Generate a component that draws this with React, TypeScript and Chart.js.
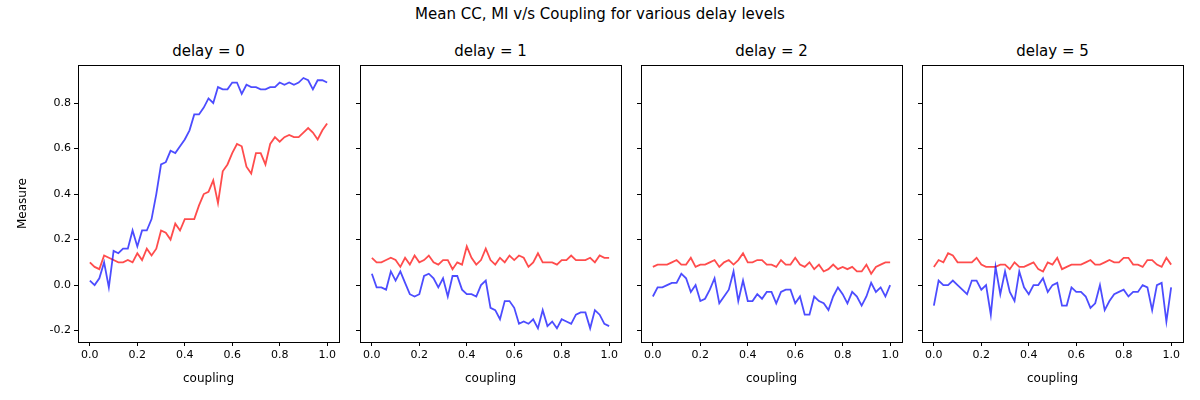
import { useEffect, useRef } from 'react';
import { Chart, registerables } from 'chart.js';

Chart.register(...registerables);

const coupling = Array.from({ length: 51 }, (_, i) => +(i * 0.02).toFixed(2));
const delays = [0, 1, 2, 5];

const ccDelay0 = [0.02,0.0,0.03,0.1,-0.01,0.15,0.14,0.16,0.16,0.24,0.17,0.24,0.24,0.29,0.4,0.53,0.54,0.59,0.58,0.61,0.64,0.68,0.75,0.75,0.78,0.82,0.8,0.87,0.86,0.86,0.89,0.89,0.84,0.88,0.87,0.87,0.86,0.86,0.87,0.87,0.89,0.88,0.89,0.88,0.89,0.91,0.9,0.86,0.9,0.9,0.89];
const miDelay0 = [0.1,0.08,0.07,0.13,0.12,0.11,0.1,0.1,0.11,0.1,0.14,0.11,0.16,0.13,0.16,0.24,0.23,0.2,0.27,0.24,0.29,0.29,0.29,0.35,0.4,0.41,0.46,0.36,0.5,0.53,0.58,0.62,0.61,0.52,0.49,0.58,0.58,0.53,0.62,0.65,0.63,0.65,0.66,0.65,0.65,0.67,0.69,0.67,0.64,0.68,0.71];
const ccDelay1 = [0.05,-0.01,-0.01,-0.02,0.06,0.02,0.06,0.01,-0.04,-0.05,-0.04,0.04,0.05,0.03,-0.01,0.03,-0.05,0.04,0.04,-0.02,-0.04,-0.04,-0.05,0.0,0.02,-0.1,-0.11,-0.15,-0.07,-0.07,-0.1,-0.17,-0.16,-0.17,-0.15,-0.19,-0.11,-0.18,-0.16,-0.19,-0.15,-0.16,-0.17,-0.13,-0.12,-0.12,-0.19,-0.11,-0.13,-0.17,-0.18];
const miDelay1 = [0.12,0.1,0.1,0.11,0.12,0.11,0.08,0.12,0.09,0.13,0.1,0.11,0.13,0.1,0.09,0.11,0.11,0.07,0.1,0.09,0.17,0.12,0.09,0.11,0.16,0.11,0.09,0.12,0.1,0.13,0.11,0.13,0.12,0.08,0.1,0.14,0.1,0.1,0.1,0.09,0.11,0.11,0.13,0.11,0.11,0.11,0.12,0.1,0.13,0.12,0.12];
const ccDelay2 = [-0.05,-0.01,-0.01,0.0,0.01,0.01,0.05,0.03,-0.03,0.0,-0.07,-0.06,-0.02,0.03,-0.08,-0.05,-0.02,0.06,-0.07,0.02,-0.07,-0.07,-0.04,-0.06,-0.03,-0.03,-0.08,-0.03,-0.02,-0.02,-0.08,-0.05,-0.13,-0.13,-0.05,-0.07,-0.08,-0.11,-0.05,-0.01,-0.04,-0.08,-0.03,-0.05,-0.09,-0.05,0.01,-0.03,-0.01,-0.05,0.0];
const miDelay2 = [0.08,0.09,0.09,0.09,0.1,0.11,0.09,0.09,0.12,0.08,0.09,0.09,0.1,0.11,0.08,0.1,0.11,0.09,0.11,0.14,0.1,0.1,0.11,0.11,0.09,0.09,0.08,0.11,0.09,0.09,0.12,0.09,0.08,0.1,0.07,0.09,0.06,0.07,0.09,0.07,0.08,0.07,0.08,0.06,0.06,0.09,0.05,0.08,0.09,0.1,0.1];
const ccDelay5 = [-0.09,0.02,0.0,0.0,0.02,0.0,-0.02,-0.04,0.02,0.02,-0.02,0.0,-0.13,0.08,-0.04,0.06,-0.03,-0.07,0.06,-0.01,-0.04,0.0,0.0,0.03,-0.03,0.0,0.01,-0.09,-0.09,-0.01,-0.03,-0.03,-0.05,-0.1,-0.08,0.0,-0.11,-0.07,-0.04,-0.03,-0.02,-0.05,-0.03,-0.03,0.0,-0.01,-0.11,0.0,0.01,-0.16,-0.01];
const miDelay5 = [0.08,0.11,0.1,0.14,0.13,0.1,0.1,0.1,0.1,0.12,0.09,0.08,0.08,0.08,0.09,0.09,0.07,0.1,0.08,0.08,0.09,0.1,0.07,0.06,0.1,0.09,0.12,0.07,0.08,0.09,0.09,0.09,0.1,0.11,0.09,0.09,0.1,0.11,0.1,0.1,0.12,0.12,0.09,0.09,0.08,0.11,0.11,0.09,0.08,0.12,0.09];

const ccSeries = [ccDelay0, ccDelay1, ccDelay2, ccDelay5];
const miSeries = [miDelay0, miDelay1, miDelay2, miDelay5];
const xTicks = [0, 0.2, 0.4, 0.6, 0.8, 1.0];
const yTicks = [-0.2, 0, 0.2, 0.4, 0.6, 0.8];

const FONT = 'DejaVu Sans, sans-serif';
// plot box left edges (page px) and width
const boxLeft = [78, 360, 641, 922];
const boxW = 261;

const framePlugin = {
  id: 'frame',
  afterDraw(chart: Chart) {
    const { ctx, chartArea: a } = chart;
    ctx.save();
    ctx.strokeStyle = '#000';
    ctx.lineWidth = 1;
    ctx.strokeRect(Math.round(a.left) + 0.5, Math.round(a.top) + 0.5, Math.round(a.width), Math.round(a.height));
    ctx.restore();
  },
};

function Panel({ idx }: { idx: number }) {
  const canvasRef = useRef<HTMLCanvasElement | null>(null);
  const first = idx === 0;
  const canvasLeft = first ? 0 : boxLeft[idx] - 12;
  const yWidth = boxLeft[idx] - canvasLeft - (first ? 16 : 0);

  useEffect(() => {
    if (!canvasRef.current) return;
    const chart = new Chart(canvasRef.current, {
      type: 'line',
      data: {
        datasets: [
          { data: coupling.map((x, i) => ({ x, y: ccSeries[idx][i] })), borderColor: 'rgba(0,0,255,0.7)', borderWidth: 1.8, pointRadius: 0, tension: 0 },
          { data: coupling.map((x, i) => ({ x, y: miSeries[idx][i] })), borderColor: 'rgba(255,0,0,0.7)', borderWidth: 1.8, pointRadius: 0, tension: 0 },
        ],
      },
      options: {
        animation: false,
        responsive: false,
        layout: { padding: { top: 65, right: 1, bottom: 14, left: first ? 16 : 0 } },
        plugins: { legend: { display: false }, tooltip: { enabled: false } },
        scales: {
          x: {
            type: 'linear', min: -0.05, max: 1.05,
            grid: { drawOnChartArea: false, tickLength: 4, color: '#000' },
            border: { display: false },
            afterBuildTicks: (s: any) => { s.ticks = xTicks.map((v) => ({ value: v })); },
            ticks: { color: '#000', font: { family: FONT, size: 11 }, callback: (v: any) => Number(v).toFixed(1) },
            title: { display: true, text: 'coupling', color: '#000', font: { family: FONT, size: 12 }, padding: 0 },
            afterFit: (s: any) => { s.height = 44; },
          },
          y: {
            type: 'linear', min: -0.25, max: 0.967,
            grid: { drawOnChartArea: false, tickLength: 4, color: '#000' },
            border: { display: false },
            afterBuildTicks: (s: any) => { s.ticks = yTicks.map((v) => ({ value: v })); },
            ticks: { display: first, color: '#000', font: { family: FONT, size: 11 }, callback: (v: any) => Number(v).toFixed(1) },
            title: { display: first, text: 'Measure', color: '#000', font: { family: FONT, size: 12 }, padding: 0 },
            afterFit: (s: any) => { s.width = yWidth; },
          },
        },
      },
      plugins: [framePlugin],
    } as any);
    return () => chart.destroy();
  }, []);

  const w = boxLeft[idx] + boxW + 1 - canvasLeft;
  return (
    <>
      <div style={{ position: 'absolute', left: boxLeft[idx], width: boxW, top: 42, textAlign: 'center', fontFamily: FONT, fontSize: 15 }}>
        delay = {delays[idx]}
      </div>
      <canvas ref={canvasRef} width={w} height={400} style={{ position: 'absolute', left: canvasLeft, top: 0, width: w, height: 400 }} />
    </>
  );
}

export default function App() {
  return (
    <div style={{ position: 'fixed', left: 0, top: 0, width: 1200, height: 400, background: '#fff' }}>
      <div style={{ position: 'absolute', left: 0, width: 1200, top: 5, textAlign: 'center', fontFamily: FONT, fontSize: 15 }}>
        Mean CC, MI v/s Coupling for various delay levels
      </div>
      {[0, 1, 2, 3].map((i) => <Panel key={i} idx={i} />)}
    </div>
  );
}
